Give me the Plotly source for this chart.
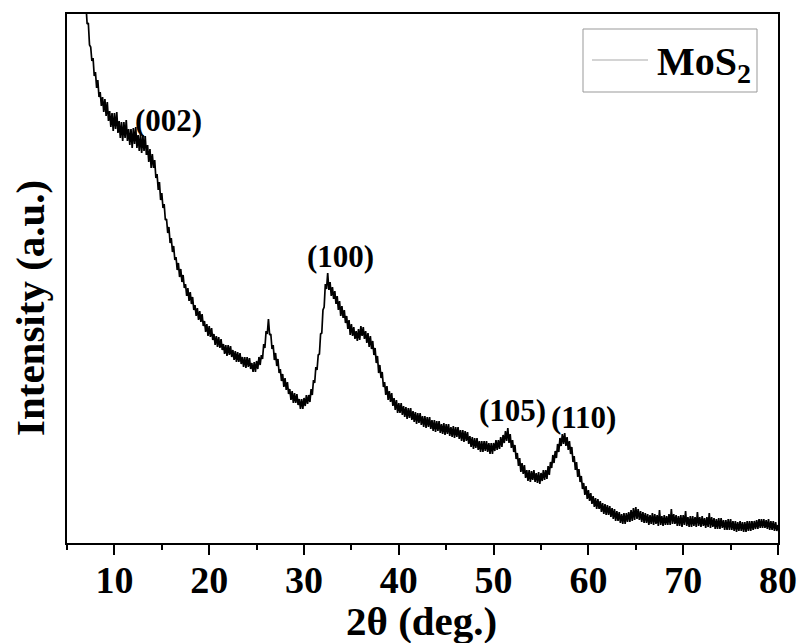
import numpy as np
import plotly.graph_objects as go

# 2-theta scan grid (deg), 0.125 deg step from 6.5 to 80
two_theta = np.arange(6.5, 80.001, 0.125)

# intensity (a.u.), 8 values per degree
intensity = [
    600, 580, 565, 545,                      # 6.5
    538, 519, 520, 498, 496, 482, 485, 467,  # 7
    471, 455, 463, 446, 451, 437, 446, 431,  # 8
    444, 427, 441, 422, 432, 416, 430, 412,  # 9
    430, 414, 431, 410, 422, 405, 421, 402,  # 10
    421, 405, 423, 402, 414, 398, 414, 395,  # 11
    415, 399, 416, 395, 408, 392, 409, 390,  # 12
    408, 392, 407, 388, 398, 381, 394, 375,  # 13
    389, 375, 383, 365, 369, 353, 361, 343,  # 14
    350, 335, 339, 323, 324, 310, 316, 300,  # 15
    305, 291, 297, 283, 286, 273, 280, 266,  # 16
    274, 261, 268, 255, 259, 247, 255, 242,  # 17
    251, 239, 246, 233, 238, 227, 235, 223,  # 18
    232, 221, 229, 217, 222, 211, 219, 207,  # 19
    217, 206, 215, 203, 209, 198, 207, 196,  # 20
    206, 195, 204, 193, 199, 189, 198, 187,  # 21
    198, 188, 197, 186, 193, 183, 192, 181,  # 22
    191, 181, 190, 179, 186, 176, 186, 175,  # 23
    186, 176, 185, 174, 180, 171, 181, 171,  # 24
    182, 174, 186, 178, 188, 184, 199, 195,  # 25
    212, 209, 224, 208, 209, 194, 198, 183,  # 26
    190, 177, 184, 170, 174, 162, 169, 156,  # 27
    165, 153, 161, 149, 154, 143, 152, 140,  # 28
    150, 140, 149, 138, 144, 134, 144, 134,  # 29
    145, 137, 148, 139, 148, 141, 154, 148,  # 30
    163, 160, 176, 173, 188, 189, 209, 210,  # 31
    233, 236, 259, 254, 270, 253, 261, 247,  # 32
    256, 244, 252, 239, 247, 233, 242, 227,  # 33
    237, 225, 233, 220, 227, 214, 223, 208,  # 34
    219, 207, 216, 204, 212, 202, 214, 203,  # 35
    217, 207, 216, 204, 212, 200, 210, 196,  # 36
    207, 194, 202, 188, 195, 180, 187, 170,  # 37
    178, 165, 171, 156, 161, 148, 157, 143,  # 38
    152, 141, 150, 137, 145, 133, 143, 130,  # 39
    140, 130, 140, 128, 137, 126, 136, 124,  # 40
    135, 125, 135, 123, 132, 121, 131, 119,  # 41
    130, 120, 130, 118, 127, 116, 127, 115,  # 42
    126, 116, 126, 114, 123, 112, 123, 111,  # 43
    122, 112, 122, 110, 119, 109, 120, 108,  # 44
    119, 109, 119, 107, 116, 106, 117, 105,  # 45
    116, 106, 116, 104, 113, 102, 113, 101,  # 46
    112, 102, 111, 99, 107, 96, 106, 94,     # 47
    105, 95, 105, 93, 102, 91, 102, 91,      # 48
    102, 92, 102, 91, 100, 89, 100, 89,      # 49
    100, 92, 103, 93, 103, 94, 106, 96,      # 50
    108, 100, 112, 102, 115, 100, 109, 95,   # 51
    103, 91, 98, 84, 90, 77, 85, 71,         # 52
    80, 69, 78, 65, 73, 62, 73, 61,          # 53
    72, 63, 73, 61, 70, 60, 71, 59,          # 54
    70, 62, 73, 63, 73, 64, 77, 68,          # 55
    81, 75, 88, 80, 92, 85, 99, 91,          # 56
    105, 97, 109, 99, 110, 97, 106, 93,      # 57
    102, 89, 96, 81, 87, 73, 81, 66,         # 58
    74, 61, 67, 54, 60, 48, 57, 44,          # 59
    53, 42, 50, 39, 47, 36, 45, 34,          # 60
    44, 34, 42, 31, 40, 29, 39, 28,          # 61
    38, 28, 37, 26, 35, 24, 34, 22,          # 62
    32, 22, 31, 20, 29, 19, 30, 19,          # 63
    30, 21, 31, 21, 33, 22, 35, 23,          # 64
    36, 24, 34, 23, 32, 21, 31, 20,          # 65
    30, 20, 29, 18, 28, 19, 30, 18,          # 66
    29, 19, 28, 17, 33, 18, 27, 17,          # 67
    28, 18, 27, 18, 29, 18, 34, 19,          # 68
    29, 19, 28, 17, 27, 17, 28, 16,          # 69
    28, 18, 32, 17, 26, 16, 27, 16,          # 70
    27, 17, 26, 16, 31, 17, 26, 16,          # 71
    27, 17, 25, 15, 26, 16, 30, 15,          # 72
    26, 16, 25, 14, 24, 14, 25, 14,          # 73
    25, 15, 23, 13, 23, 13, 24, 13,          # 74
    24, 13, 22, 12, 22, 11, 21, 12,          # 75
    22, 12, 21, 11, 21, 11, 22, 12,          # 76
    22, 12, 22, 13, 22, 14, 23, 14,          # 77
    24, 15, 24, 15, 24, 15, 23, 14,          # 78
    24, 13, 22, 13, 22, 12, 21, 12,          # 79
    18,                                      # 80
]

peak_labels = ["(002)", "(100)", "(105)", "(110)"]
peak_label_x = [15.7, 33.8, 52.0, 59.5]
peak_label_y = [423, 287, 133, 126]

x_ticks = [10, 20, 30, 40, 50, 60, 70, 80]
series_name = "MoS<sub>2</sub>"

FONT = "Liberation Serif"

# plot area in pixels
L, R, T, B = 67, 778, 14, 543
W, H = 800, 643
pw, ph = R - L, B - T


def px(xp):
    return (xp - L) / pw


def py(yp):
    return (B - yp) / ph


n = min(len(two_theta), len(intensity))

fig = go.Figure()
fig.add_trace(go.Scatter(
    x=two_theta[:n], y=intensity[:n], mode="lines",
    line=dict(color="black", width=1.7), showlegend=False, hoverinfo="skip"))

for t, xv, yv in zip(peak_labels, peak_label_x, peak_label_y):
    fig.add_annotation(x=xv, y=yv, xref="x", yref="y", text="<b>%s</b>" % t,
                       showarrow=False, font=dict(family=FONT, size=31, color="black"),
                       xanchor="center", yanchor="middle")

# axis titles
fig.add_annotation(x=px(421), y=py(621), xref="paper", yref="paper",
                   text="<b>2θ (deg.)</b>", showarrow=False,
                   font=dict(family=FONT, size=41, color="black"),
                   xanchor="center", yanchor="middle")
fig.add_annotation(x=px(30), y=py(308), xref="paper", yref="paper",
                   text="<b>Intensity (a.u.)</b>", showarrow=False, textangle=-90,
                   font=dict(family=FONT, size=41, color="black"),
                   xanchor="center", yanchor="middle")

# legend box drawn manually
fig.add_shape(type="rect", xref="paper", yref="paper",
              x0=px(583), x1=px(757), y0=py(92), y1=py(29),
              line=dict(color="#999999", width=1), fillcolor="white", layer="above")
fig.add_shape(type="line", xref="paper", yref="paper",
              x0=px(592), x1=px(648), y0=py(60), y1=py(60),
              line=dict(color="#aaaaaa", width=1.2), layer="above")
fig.add_annotation(x=px(655), y=py(64), xref="paper", yref="paper",
                   text="<b>%s</b>" % series_name, showarrow=False,
                   font=dict(family=FONT, size=40, color="black"),
                   xanchor="left", yanchor="middle")

fig.update_layout(
    template="none",
    width=W, height=H,
    margin=dict(l=L, r=W - R, t=T, b=H - B, pad=0),
    paper_bgcolor="white", plot_bgcolor="white",
    showlegend=False,
    xaxis=dict(range=[5, 80], tickvals=x_ticks, ticks="outside", ticklen=10, tickwidth=2,
               tickcolor="black", showline=True, linecolor="black", linewidth=2,
               mirror=True, showgrid=False, zeroline=False, automargin=False,
               ticklabelstandoff=-8,
               tickfont=dict(family=FONT, size=38, color="black", weight="bold"),
               minor=dict(dtick=5, tick0=0, ticks="outside", ticklen=5, tickwidth=2,
                          tickcolor="black", showgrid=False)),
    yaxis=dict(range=[0, 529], showticklabels=False, ticks="", showline=True,
               linecolor="black", linewidth=2, mirror=True, showgrid=False,
               zeroline=False, automargin=False),
)

fig.write_html("out.html")
